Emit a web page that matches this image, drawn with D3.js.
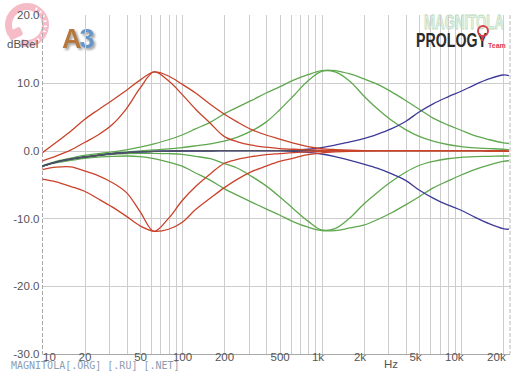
<!DOCTYPE html>
<meta charset="utf-8">
<style type="text/css">
html, body { margin: 0; background-color: #fff; }
.grid line { stroke: #cdcdcd; stroke-width: 1; shape-rendering: crispEdges; }
.grid path { stroke-width: 0; }
.curve { fill: none; stroke-width: 1.3; }
.axis-label text { fill: #555; }
</style>
<body>
</body>
<script src="https://d3js.org/d3.v7.min.js"></script>
<script>

var freqs = [10, 12.5, 16, 20, 25, 31.5, 40, 50, 63, 80, 100, 125, 160, 200, 250, 315, 400, 500, 630, 800,
             1000, 1250, 1600, 2000, 2500, 3150, 4000, 5000, 6300, 8000, 10000, 12500, 16000, 20000, 22000];

// response in dB, one value per frequency above
var flat            = [-2.3, -1.7, -1.25, -0.95, -0.7, -0.45, -0.3, -0.2, -0.12, -0.08, -0.05, -0.03, -0.02, 0, 0, 0, 0, 0, 0, 0,
                       0, 0, 0, 0, 0, 0, 0, 0, 0, 0, 0, 0, -0.02, -0.05, -0.1];
var bassBoostWide   = [-0.3, 1.2, 2.9, 4.6, 6.0, 7.4, 8.9, 10.4, 11.6, 11.0, 9.8, 8.5, 6.8, 5.4, 4.2, 3.1, 2.3, 1.7, 1.1, 0.6,
                       0.3, 0.15, 0.05, 0, 0, 0, 0, 0, 0, 0, 0, 0, -0.02, -0.05, -0.1];
var bassBoostNarrow = [-1.5, -0.8, 0.1, 1.2, 2.3, 3.8, 6.2, 9.2, 11.6, 10.3, 8.3, 6.1, 4.0, 2.1, 1.3, 0.8, 0.5, 0.3, 0.2, 0.1,
                       0.05, 0, 0, 0, 0, 0, 0, 0, 0, 0, 0, 0, -0.02, -0.05, -0.1];
var bassCutWide     = [-4.2, -4.6, -5.3, -6.0, -7.1, -8.3, -9.7, -11.1, -11.9, -11.6, -10.6, -8.7, -7.0, -5.5, -4.2, -3.1, -2.3, -1.6, -1.1, -0.6,
                       -0.35, -0.2, -0.1, -0.05, 0, 0, 0, 0, 0, 0, 0, 0, -0.02, -0.05, -0.1];
var bassCutNarrow   = [-2.8, -2.45, -2.4, -3.0, -3.7, -4.7, -6.2, -9.0, -11.9, -10.0, -7.4, -5.3, -3.4, -1.9, -1.3, -0.9, -0.6, -0.45, -0.3, -0.2,
                       -0.1, -0.05, 0, 0, 0, 0, 0, 0, 0, 0, 0, 0, -0.02, -0.05, -0.1];
var midBoostWide    = [-2.2, -1.6, -1.1, -0.7, -0.45, -0.2, 0.1, 0.5, 1.0, 1.6, 2.3, 3.2, 4.2, 5.4, 6.4, 7.4, 8.5, 9.4, 10.4, 11.2,
                       11.8, 11.8, 11.3, 10.6, 9.8, 8.7, 7.4, 6.1, 4.8, 3.8, 3.0, 2.2, 1.6, 1.15, 1.05];
var midBoostNarrow  = [-2.3, -1.7, -1.2, -0.9, -0.6, -0.4, -0.2, -0.05, 0.1, 0.25, 0.45, 0.7, 1.0, 1.4, 2.0, 2.9, 4.2, 6.0, 8.1, 10.3,
                       11.7, 11.6, 10.2, 8.1, 6.2, 4.5, 3.1, 2.1, 1.4, 0.9, 0.6, 0.4, 0.3, 0.2, 0.15];
var midCutWide      = [-2.3, -1.8, -1.45, -1.15, -0.95, -0.85, -0.8, -0.9, -1.2, -1.7, -2.3, -3.3, -4.4, -5.6, -6.6, -7.6, -8.6, -9.5, -10.5, -11.3,
                       -11.8, -11.8, -11.4, -11.0, -10.2, -9.2, -8.0, -6.8, -5.5, -4.5, -3.6, -2.8, -2.1, -1.6, -1.5];
var midCutNarrow    = [-2.3, -1.7, -1.3, -1.0, -0.75, -0.55, -0.45, -0.4, -0.4, -0.45, -0.55, -0.85, -1.2, -1.9, -2.6, -3.8, -5.2, -6.8, -8.6, -10.4,
                       -11.7, -11.5, -9.9, -7.9, -6.2, -4.6, -3.2, -2.2, -1.6, -1.2, -1.0, -0.9, -0.85, -0.8, -0.8];
var trebleBoost     = [-2.3, -1.7, -1.25, -0.95, -0.7, -0.45, -0.3, -0.2, -0.12, -0.08, -0.05, -0.03, -0.02, 0, 0, 0, 0, 0, 0.05, 0.2,
                       0.45, 0.8, 1.3, 1.75, 2.4, 3.2, 4.3, 5.7, 6.9, 7.9, 8.75, 9.7, 10.6, 11.15, 11.05];
var trebleCut       = [-2.3, -1.7, -1.25, -0.95, -0.7, -0.45, -0.3, -0.2, -0.12, -0.08, -0.05, -0.03, -0.02, 0, 0, 0, 0, 0, -0.1, -0.25,
                       -0.5, -0.9, -1.45, -2.0, -2.6, -3.4, -4.4, -5.8, -7.0, -8.0, -8.8, -9.8, -10.8, -11.5, -11.6];

// ticks
var xTickValues = [10, 20, 50, 100, 200, 500, 1000, 2000, 5000, 10000, 20000];
var xTickLabels = ["10", "20", "50", "100", "200", "500", "1k", "2k", "5k", "10k", "20k"];
var xGridValues = [20, 30, 40, 50, 60, 70, 80, 90, 100, 200, 300, 400, 500, 600, 700, 800, 900,
                   1000, 2000, 3000, 4000, 5000, 6000, 7000, 8000, 9000, 10000, 20000];
var yTickValues = [-30, -20, -10, 0, 10, 20];
var yGridValues = [-20, -10, 0, 10];

// drawing order: green, blue, flat, red on top
var series = [
    {values: midBoostWide,    color: "#5fa84f"},
    {values: midBoostNarrow,  color: "#5fa84f"},
    {values: midCutWide,      color: "#5fa84f"},
    {values: midCutNarrow,    color: "#5fa84f"},
    {values: trebleBoost,     color: "#3d3a98"},
    {values: trebleCut,       color: "#3d3a98"},
    {values: flat,            color: "#50525e"},
    {values: bassBoostWide,   color: "#c9432b"},
    {values: bassBoostNarrow, color: "#c9432b"},
    {values: bassCutWide,     color: "#c9432b"},
    {values: bassCutNarrow,   color: "#c9432b"}
];

var font = "'Liberation Sans Narrow', 'Liberation Sans', Arial, sans-serif";

var margin = {top: 15, right: 16, bottom: 23, left: 42.5}
  , width = 526 - margin.left - margin.right
  , height = 377 - margin.top - margin.bottom;

var xScale = d3.scaleLog()
    .domain([10, 22400])
    .range([0, width]);

var yScale = d3.scaleLinear()
    .domain([-30, 20])
    .range([height, 0]);

var root = d3.select("body").append("svg")
    .attr("width", 526)
    .attr("height", 377);

// logos (behind everything)
var logo = root.append("g");

var ring = d3.arc().innerRadius(15).outerRadius(22)
    .startAngle(240 * Math.PI / 180).endAngle(560 * Math.PI / 180);
logo.append("path")
    .attr("transform", "translate(27,25)")
    .attr("d", ring())
    .attr("fill", "#f5bcc8");
logo.append("rect")
    .attr("x", 8).attr("y", 29).attr("width", 14).attr("height", 9).attr("rx", 2)
    .attr("transform", "rotate(-25,15,33)")
    .attr("fill", "#f5bcc8");
d3.range(30, 160, 16).forEach(function(a) {
    var r = a * Math.PI / 180;
    logo.append("line")
        .attr("x1", 27 + 17 * Math.sin(r)).attr("y1", 25 - 17 * Math.cos(r))
        .attr("x2", 27 + 20 * Math.sin(r)).attr("y2", 25 - 20 * Math.cos(r))
        .attr("stroke", "#fff").attr("stroke-width", 1.5);
});

var a3 = logo.append("text")
    .attr("x", 62).attr("y", 48)
    .attr("font-family", "'Liberation Sans', Arial, sans-serif")
    .attr("font-weight", "bold")
    .attr("font-size", 27)
    .attr("letter-spacing", -2)
    .style("filter", "drop-shadow(2px 2px 1px rgba(0,0,0,0.35))");
a3.append("tspan").attr("fill", "#b5773c").text("A");
a3.append("tspan").attr("fill", "#6896c6").text("3");

logo.append("text")
    .attr("x", 424).attr("y", 29)
    .attr("font-family", font)
    .attr("font-weight", "bold")
    .attr("font-size", 20)
    .attr("textLength", 80)
    .attr("lengthAdjust", "spacingAndGlyphs")
    .attr("fill", "#e3f2e3")
    .attr("stroke", "#bcdcbc")
    .attr("stroke-width", 0.8)
    .text("MAGNITOLA");

// 1. plot group
var svg = root.append("g")
    .attr("transform", "translate(" + margin.left + "," + margin.top + ")");

// 2. grid lines
svg.append("g")
    .attr("class", "grid")
    .attr("transform", "translate(0," + height + ")")
    .call(d3.axisBottom(xScale).tickValues(xGridValues).tickSize(-height).tickFormat(""));

svg.append("g")
    .attr("class", "grid")
    .call(d3.axisLeft(yScale).tickValues(yGridValues).tickSize(-width).tickFormat(""));

// frame: dashed left / right edges, solid bottom
svg.append("line")
    .attr("x1", 0).attr("x2", 0).attr("y1", 0).attr("y2", height)
    .attr("stroke", "#a8a8a8").attr("stroke-dasharray", "4,2");
svg.append("line")
    .attr("x1", width).attr("x2", width).attr("y1", 0).attr("y2", height)
    .attr("stroke", "#b8b8b8").attr("stroke-dasharray", "4,2");
svg.append("line")
    .attr("x1", 0).attr("x2", width).attr("y1", height + 0.5).attr("y2", height + 0.5)
    .attr("stroke", "#a8a8a8");

// 3. axis labels
var yAxis = svg.append("g")
    .attr("class", "axis-label")
    .call(d3.axisLeft(yScale).tickValues(yTickValues).tickSize(0).tickPadding(3)
        .tickFormat(function(d) { return d.toFixed(1); }))
    .attr("font-family", font)
    .attr("font-size", 11.5);
yAxis.select(".domain").remove();

var xAxis = svg.append("g")
    .attr("class", "axis-label")
    .attr("transform", "translate(0," + height + ")")
    .call(d3.axisBottom(xScale).tickValues(xTickValues).tickSize(0).tickPadding(-1)
        .tickFormat(function(d, i) { return xTickLabels[i]; }))
    .attr("font-family", font)
    .attr("font-size", 11.5);
xAxis.select(".domain").remove();
xAxis.selectAll("text")
    .attr("text-anchor", function(d, i) {
        if (i === 0) return "start";
        return xTickLabels[i].indexOf("k") > 0 ? "end" : "middle";
    })
    .attr("dx", function(d, i) { return xTickLabels[i].indexOf("k") > 0 ? 2 : 0; });

svg.append("text")
    .attr("x", xScale(2800)).attr("y", height + 14)
    .attr("font-family", font).attr("font-size", 11.5).attr("fill", "#555")
    .text("Hz");

root.append("text")
    .attr("x", 7).attr("y", 48)
    .attr("font-family", font).attr("font-size", 11.5).attr("fill", "#555")
    .text("dBRel");

// 4. curves
var line = d3.line()
    .x(function(d, i) { return xScale(freqs[i]); })
    .y(function(d) { return yScale(d); })
    .curve(d3.curveCatmullRom.alpha(0.5));

svg.selectAll(".curve")
    .data(series)
    .enter().append("path")
    .attr("class", "curve")
    .attr("stroke", function(d) { return d.color; })
    .attr("d", function(d) { return line(d.values); });

// 5. brand marks on top
root.append("text")
    .attr("x", 416).attr("y", 47)
    .attr("font-family", font)
    .attr("font-weight", "bold")
    .attr("font-size", 20)
    .attr("textLength", 71)
    .attr("lengthAdjust", "spacingAndGlyphs")
    .attr("fill", "#2b2b2b")
    .text("PROLOGY");

root.append("circle")
    .attr("cx", 483).attr("cy", 31).attr("r", 5)
    .attr("fill", "none").attr("stroke", "#d8404c").attr("stroke-width", 2);
root.append("line")
    .attr("x1", 483).attr("y1", 36).attr("x2", 482).attr("y2", 41)
    .attr("stroke", "#d8404c").attr("stroke-width", 2);
root.append("text")
    .attr("x", 488).attr("y", 48)
    .attr("font-family", "'Liberation Sans', Arial, sans-serif")
    .attr("font-weight", "bold")
    .attr("font-size", 7)
    .attr("fill", "#d8404c")
    .text("Team");

root.append("text")
    .attr("x", 11).attr("y", 369)
    .attr("font-family", "'DejaVu Sans Mono', monospace")
    .attr("font-size", 10)
    .attr("fill", "#8c9db2")
    .text("MAGNITOLA[.ORG] [.RU] [.NET]");

</script>
